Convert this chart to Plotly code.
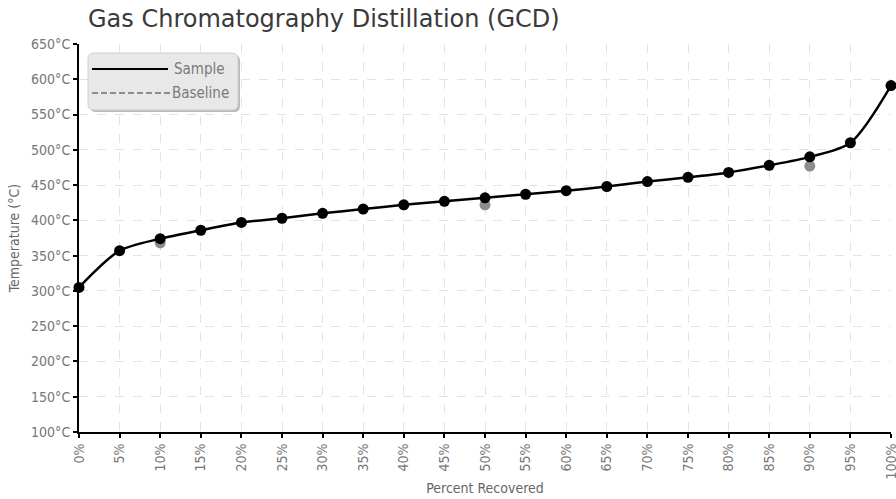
import plotly.graph_objects as go

pct = [0, 5, 10, 15, 20, 25, 30, 35, 40, 45, 50, 55, 60, 65, 70, 75, 80, 85, 90, 95, 100]
sample_temp = [305, 357, 374, 386, 397, 403, 410, 416, 422, 427, 432, 437, 442, 448, 455, 461, 468, 478, 490, 510, 591]
base_pct = [10, 50, 90]
base_temp = [368, 422, 477]

x_ticks = list(range(0, 101, 5))
x_labels = [f"{v}%" for v in x_ticks]
y_ticks = list(range(100, 651, 50))
y_labels = [f"{v}°C" for v in y_ticks]
legend_names = ["Sample", "Baseline"]

font_lbl = "DejaVu Sans Condensed, Roboto, sans-serif"

# plot-area geometry in pixels (for the hand-drawn legend box)
L, R, T, B = 79, 5, 44, 67
W, H = 896, 499
PW, PH = W - L - R, H - T - B


def px(x):
    return (x - L) / PW


def py(y):
    return (H - B - y) / PH


def rounded(x0, y0, x1, y1, r):
    return (f"M {px(x0 + r)} {py(y0)} L {px(x1 - r)} {py(y0)} Q {px(x1)} {py(y0)} {px(x1)} {py(y0 + r)} "
            f"L {px(x1)} {py(y1 - r)} Q {px(x1)} {py(y1)} {px(x1 - r)} {py(y1)} "
            f"L {px(x0 + r)} {py(y1)} Q {px(x0)} {py(y1)} {px(x0)} {py(y1 - r)} "
            f"L {px(x0)} {py(y0 + r)} Q {px(x0)} {py(y0)} {px(x0 + r)} {py(y0)} Z")


fig = go.Figure()
fig.add_trace(go.Scatter(x=base_pct, y=base_temp, mode="markers",
                         marker=dict(color="#8c8c8c", size=11), showlegend=False, hoverinfo="skip"))
fig.add_trace(go.Scatter(x=pct, y=sample_temp, mode="lines+markers", showlegend=False,
                         line=dict(color="black", width=2.5, shape="spline", smoothing=0.8),
                         marker=dict(color="black", size=11), cliponaxis=False))

shapes = [
    dict(type="path", xref="paper", yref="paper", path=rounded(90, 55, 240, 112, 6),
         fillcolor="#b8b8b8", line=dict(width=0), layer="above"),
    dict(type="path", xref="paper", yref="paper", path=rounded(88, 53, 238, 110, 6),
         fillcolor="#e8e8e8", line=dict(color="#d0d0d0", width=1), layer="above"),
    dict(type="line", xref="paper", yref="paper", x0=px(92), x1=px(168), y0=py(69), y1=py(69),
         line=dict(color="black", width=2), layer="above"),
    dict(type="line", xref="paper", yref="paper", x0=px(92), x1=px(171), y0=py(93), y1=py(93),
         line=dict(color="#8c8c8c", width=2, dash="6px,3px"), layer="above"),
]
annotations = [
    dict(text=legend_names[0], xref="paper", yref="paper", x=px(172), y=py(69),
         xanchor="left", yanchor="middle", showarrow=False,
         font=dict(family=font_lbl, size=15, color="#7a7a7a")),
    dict(text=legend_names[1], xref="paper", yref="paper", x=px(170), y=py(93),
         xanchor="left", yanchor="middle", showarrow=False,
         font=dict(family=font_lbl, size=15, color="#7a7a7a")),
]

fig.update_layout(
    width=W, height=H,
    margin=dict(l=L, r=R, t=T, b=B, autoexpand=False),
    paper_bgcolor="white", plot_bgcolor="white",
    title=dict(text="Gas Chromatography Distillation (GCD)", x=88/896, xanchor="left",
               y=1-19/499, yanchor="middle",
               font=dict(family="DejaVu Sans", size=24, color="#3a3a3a")),
    showlegend=False,
    shapes=shapes,
    annotations=annotations,
)
fig.update_xaxes(range=[0, 100], tickvals=x_ticks, ticktext=x_labels, tickangle=-90,
                 showline=True, linecolor="black", linewidth=2, ticks="outside",
                 tickcolor="black", ticklen=4, tickwidth=2, ticklabeloverflow="allow",
                 automargin=False,
                 showgrid=True, gridcolor="#e3e3e3", griddash="dash", gridwidth=1,
                 zeroline=False,
                 tickfont=dict(family=font_lbl, size=14, color="#777777"),
                 title=dict(text="Percent Recovered", standoff=5,
                            font=dict(family=font_lbl, size=14, color="#666666")))
fig.update_yaxes(range=[100, 650], tickvals=y_ticks, ticktext=y_labels,
                 showline=True, linecolor="black", linewidth=2, ticks="outside",
                 tickcolor="black", ticklen=4, tickwidth=2, automargin=False,
                 showgrid=True, gridcolor="#e3e3e3", griddash="dash", gridwidth=1,
                 zeroline=False,
                 tickfont=dict(family=font_lbl, size=14, color="#777777"),
                 title=dict(text="Temperature (°C)", standoff=8,
                            font=dict(family=font_lbl, size=14, color="#666666")))

fig.write_html("out.html", post_script="document.body.style.margin='0';",
               config={"displayModeBar": False})
